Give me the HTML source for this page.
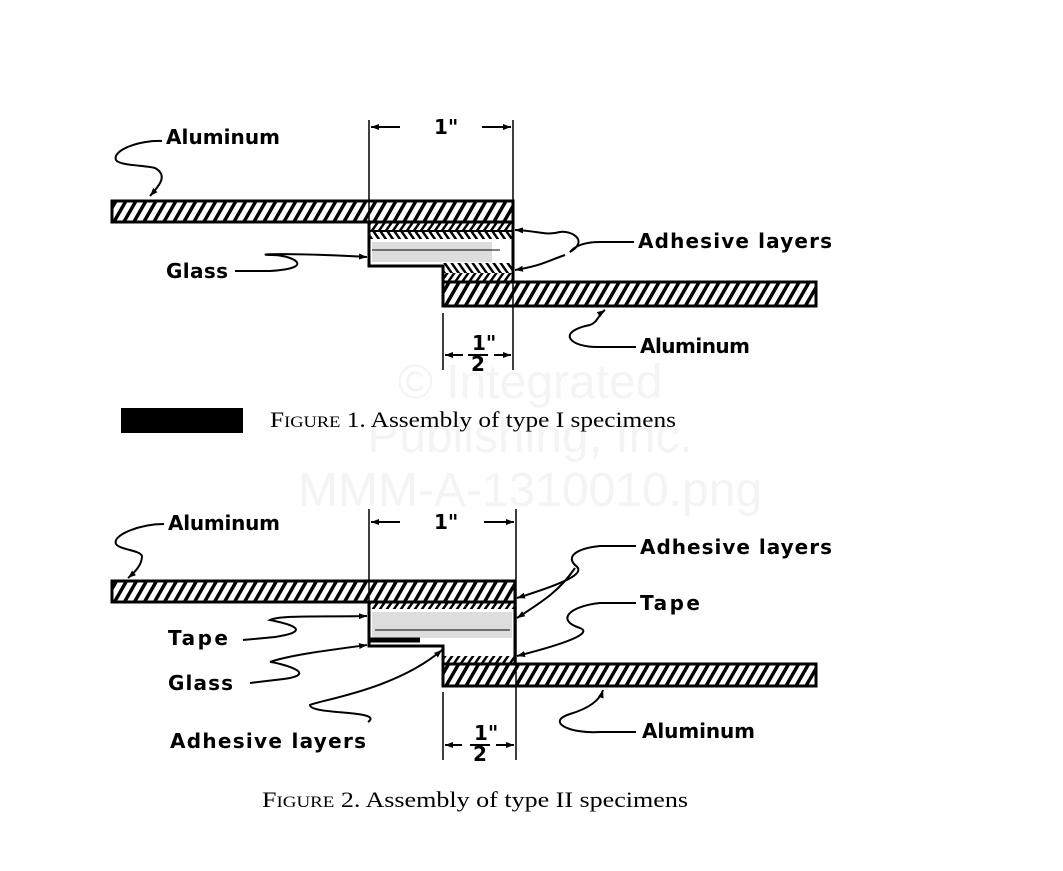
<!DOCTYPE html>
<html><head><meta charset="utf-8"><style>
html,body{margin:0;padding:0;background:#fff;}
svg{display:block;}
.l{font-family:"DejaVu Sans","Liberation Sans",sans-serif;font-weight:bold;font-size:20px;fill:#000;}
.c{font-family:"Liberation Serif",serif;font-size:22px;fill:#000;}
.w{font-family:"Liberation Sans",sans-serif;font-size:48px;fill:#f4f4f4;}
</style></head><body>
<svg width="1063" height="871" viewBox="0 0 1063 871" xmlns="http://www.w3.org/2000/svg">
<defs>
<pattern id="h" width="10" height="10" patternUnits="userSpaceOnUse" patternTransform="skewX(-30)">
<rect x="0" y="0" width="4" height="10" fill="#000"/>
</pattern>
<pattern id="a" width="7" height="7" patternUnits="userSpaceOnUse" patternTransform="skewX(-35)">
<rect x="0" y="0" width="3" height="7" fill="#000"/>
</pattern>
<pattern id="b" width="7" height="7" patternUnits="userSpaceOnUse" patternTransform="skewX(35)">
<rect x="0" y="0" width="3" height="7" fill="#000"/>
</pattern>
<marker id="ar" markerWidth="8" markerHeight="6" refX="8" refY="3" orient="auto" markerUnits="userSpaceOnUse"><path d="M0,0 L8,3 L0,6z" fill="#000"/></marker>
</defs>
<text class="w" x="530" y="398" text-anchor="middle">© Integrated</text>
<text class="w" x="530" y="452" text-anchor="middle">Publishing, Inc.</text>
<text class="w" x="530" y="506" text-anchor="middle">MMM-A-1310010.png</text>

<!-- FIGURE 1 -->
<g stroke="#000" fill="none">
<rect x="112" y="201" width="401" height="21" fill="url(#h)" stroke-width="3"/>
<rect x="443" y="282" width="373" height="24" fill="url(#h)" stroke-width="3"/>
<rect x="369" y="222" width="144" height="9" fill="url(#a)" stroke-width="2"/>
<rect x="369" y="231" width="144" height="8" fill="url(#b)" stroke-width="0"/>
<rect x="372" y="242" width="120" height="20" fill="#ddd" stroke-width="0"/>
<path d="M369,222 V266 H443 V282" stroke-width="3"/>
<rect x="443" y="263" width="70" height="10" fill="url(#b)" stroke-width="0"/>
<rect x="443" y="273" width="70" height="9" fill="url(#a)" stroke-width="0"/>
<line x1="513" y1="201" x2="513" y2="282" stroke-width="3"/>
<line x1="372" y1="250" x2="500" y2="250" stroke-width="1"/>
<line x1="369" y1="120" x2="369" y2="222" stroke-width="1.5"/>
<line x1="513" y1="120" x2="513" y2="370" stroke-width="1.5"/>
<line x1="443" y1="313" x2="443" y2="370" stroke-width="1.5"/>
<line x1="400" y1="127" x2="371" y2="127" stroke-width="2" marker-end="url(#ar)"/>
<line x1="482" y1="127" x2="511" y2="127" stroke-width="2" marker-end="url(#ar)"/>
<line x1="463" y1="355" x2="445" y2="355" stroke-width="2" marker-end="url(#ar)"/>
<line x1="494" y1="355" x2="511" y2="355" stroke-width="2" marker-end="url(#ar)"/>
<path d="M162,141 C140,140 112,150 116,160 C120,166 145,165 155,168 C168,175 160,185 150,196" stroke-width="2" marker-end="url(#ar)"/>
<path d="M634,242 H600 C585,242 575,246 570,252 C590,240 570,230 560,232 C545,236 540,231 515,230" stroke-width="2" marker-end="url(#ar)"/>
<path d="M565,255 C545,262 540,266 515,270" stroke-width="2" marker-end="url(#ar)"/>
<path d="M235,271 H270 C320,268 290,254 270,255 C250,254 300,253 367,257" stroke-width="2" marker-end="url(#ar)"/>
<path d="M636,347 H600 C570,348 555,332 590,325 C598,322 598,315 605,310" stroke-width="2" marker-end="url(#ar)"/>
</g>
<text class="l" x="434" y="134" font-size="16">1"</text>
<text class="l" x="166" y="144" textLength="114">Aluminum</text>
<text class="l" x="638" y="248" textLength="194">Adhesive layers</text>
<text class="l" x="166" y="278" textLength="62">Glass</text>
<text class="l" x="640" y="353" textLength="110">Aluminum</text>
<text class="l" x="472" y="350" font-size="14">1"</text>
<line x1="468" y1="355" x2="488" y2="355" stroke="#000" stroke-width="2"/>
<text class="l" x="471" y="371" font-size="15">2</text>
<rect x="121" y="408" width="122" height="25" fill="#000"/>
<text class="c" x="270" y="427" textLength="406" lengthAdjust="spacingAndGlyphs">F<tspan font-size="16">IGURE</tspan> 1. Assembly of type I specimens</text>

<!-- FIGURE 2 -->
<g stroke="#000" fill="none">
<rect x="112" y="581" width="403" height="21" fill="url(#h)" stroke-width="3"/>
<rect x="443" y="664" width="373" height="22" fill="url(#h)" stroke-width="3"/>
<rect x="369" y="603" width="146" height="6" fill="url(#a)" stroke-width="0"/>
<rect x="372" y="612" width="140" height="26" fill="#ddd" stroke-width="0"/>
<path d="M369,602 V646 H443 V664" stroke-width="3"/>
<line x1="370" y1="640" x2="420" y2="640" stroke-width="5"/>
<line x1="375" y1="630" x2="510" y2="630" stroke-width="1"/>
<rect x="443" y="656" width="72" height="7" fill="url(#a)" stroke-width="0"/>
<line x1="515" y1="581" x2="515" y2="664" stroke-width="3"/>
<line x1="369" y1="509" x2="369" y2="603" stroke-width="1.5"/>
<line x1="516" y1="509" x2="516" y2="760" stroke-width="1.5"/>
<line x1="443" y1="692" x2="443" y2="760" stroke-width="1.5"/>
<line x1="400" y1="522" x2="371" y2="522" stroke-width="2" marker-end="url(#ar)"/>
<line x1="484" y1="522" x2="514" y2="522" stroke-width="2" marker-end="url(#ar)"/>
<line x1="462" y1="745" x2="445" y2="745" stroke-width="2" marker-end="url(#ar)"/>
<line x1="496" y1="745" x2="514" y2="745" stroke-width="2" marker-end="url(#ar)"/>
<path d="M164,524 C140,524 112,535 116,544 C120,550 140,550 142,556 C142,565 135,572 128,578" stroke-width="2" marker-end="url(#ar)"/>
<path d="M636,546 H600 C580,548 565,555 575,565 C585,572 575,580 517,598" stroke-width="2" marker-end="url(#ar)"/>
<path d="M575,568 C560,590 545,600 517,618" stroke-width="2" marker-end="url(#ar)"/>
<path d="M636,603 H600 C570,606 555,620 580,628 C590,632 580,640 517,656" stroke-width="2" marker-end="url(#ar)"/>
<path d="M243,640 L275,637 C320,630 280,622 270,620 C280,615 320,617 367,616" stroke-width="2" marker-end="url(#ar)"/>
<path d="M250,683 L275,680 C330,675 275,662 270,662 C290,655 330,650 367,645" stroke-width="2" marker-end="url(#ar)"/>
<path d="M368,722 C385,710 310,715 310,705 C320,700 395,690 442,650" stroke-width="2" marker-end="url(#ar)"/>
<path d="M636,732 H600 C570,734 545,722 570,714 C590,708 600,700 603,690" stroke-width="2" marker-end="url(#ar)"/>
</g>
<text class="l" x="434" y="529" font-size="16">1"</text>
<text class="l" x="168" y="530" textLength="112">Aluminum</text>
<text class="l" x="640" y="554" textLength="192">Adhesive layers</text>
<text class="l" x="640" y="610" textLength="60">Tape</text>
<text class="l" x="168" y="645" textLength="60">Tape</text>
<text class="l" x="168" y="690" textLength="65">Glass</text>
<text class="l" x="170" y="748" textLength="196">Adhesive layers</text>
<text class="l" x="642" y="738" textLength="113">Aluminum</text>
<text class="l" x="474" y="740" font-size="14">1"</text>
<line x1="470" y1="745" x2="490" y2="745" stroke="#000" stroke-width="2"/>
<text class="l" x="473" y="761" font-size="15">2</text>
<text class="c" x="262" y="807" textLength="426" lengthAdjust="spacingAndGlyphs">F<tspan font-size="16">IGURE</tspan> 2. Assembly of type II specimens</text>
</svg>
</body></html>
